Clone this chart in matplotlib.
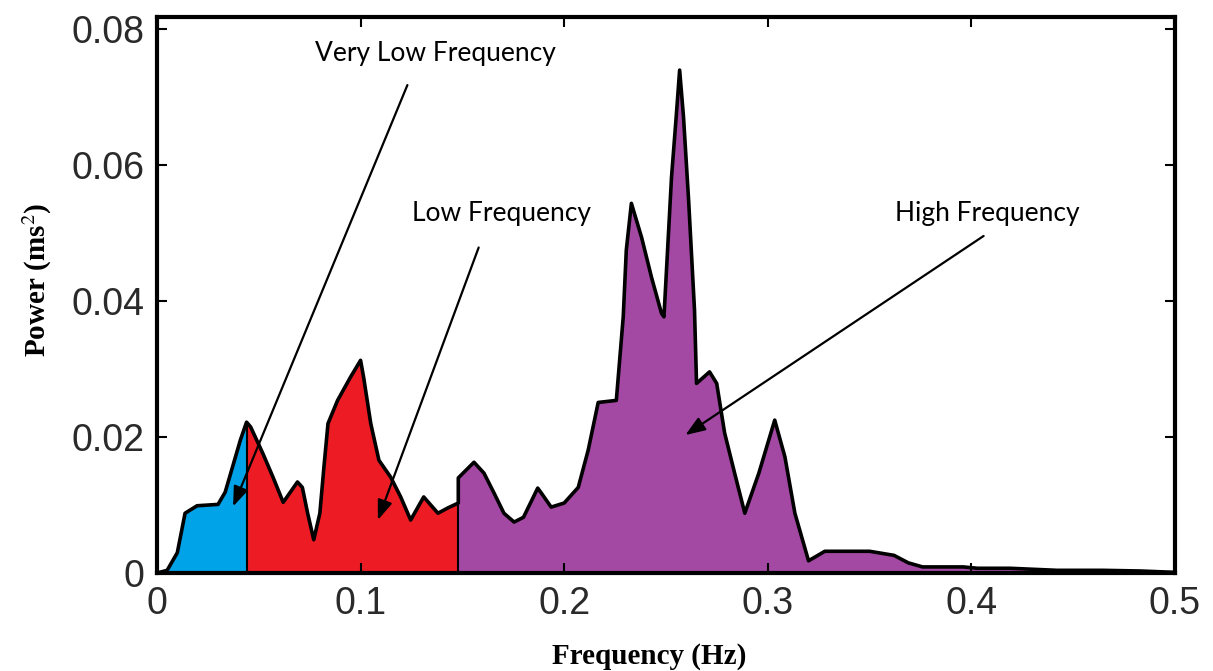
import numpy as np
import matplotlib
matplotlib.use("Agg")
import matplotlib.pyplot as plt

plt.rcParams["mathtext.fontset"] = "stix"

freq = [0.0, 0.005, 0.010, 0.0138, 0.0197, 0.030, 0.0335, 0.0374, 0.0410, 0.044,
        0.046, 0.052, 0.057, 0.062, 0.069, 0.0714, 0.074, 0.077, 0.080, 0.082,
        0.084, 0.0887, 0.095, 0.100, 0.1015, 0.105, 0.109, 0.1148, 0.1197, 0.1246,
        0.131, 0.138, 0.143, 0.148, 0.148, 0.1557, 0.1606, 0.1655, 0.1704, 0.1754,
        0.180, 0.187, 0.1887, 0.1936, 0.200, 0.2069, 0.2118, 0.2167, 0.2256, 0.229,
        0.2305, 0.233, 0.238, 0.2429, 0.2478, 0.249, 0.2527, 0.255, 0.2567, 0.2586,
        0.2611, 0.264, 0.265, 0.2714, 0.2749, 0.2788, 0.2837, 0.2887, 0.2956, 0.3034,
        0.3084, 0.3133, 0.320, 0.328, 0.350, 0.362, 0.369, 0.376, 0.396, 0.403,
        0.419, 0.442, 0.4645, 0.483, 0.500]
power = [0.0, 0.0004, 0.0030, 0.0088, 0.0099, 0.0101, 0.0119, 0.0159, 0.0196, 0.0222,
         0.0215, 0.0176, 0.0141, 0.0104, 0.0134, 0.0126, 0.0088, 0.0049, 0.0088, 0.0156,
         0.0220, 0.0254, 0.0288, 0.0313, 0.0288, 0.0220, 0.0166, 0.0141, 0.0112, 0.0078,
         0.0112, 0.0088, 0.0096, 0.0103, 0.0140, 0.0163, 0.0147, 0.0118, 0.0088, 0.0075,
         0.0082, 0.0125, 0.0118, 0.0097, 0.0103, 0.0126, 0.0181, 0.0251, 0.0254, 0.0377,
         0.0475, 0.0544, 0.0494, 0.0435, 0.0382, 0.0377, 0.0582, 0.0671, 0.0740, 0.0671,
         0.0549, 0.0387, 0.0279, 0.0296, 0.0279, 0.0206, 0.0147, 0.0088, 0.0147, 0.0225,
         0.0171, 0.0088, 0.0018, 0.0032, 0.0032, 0.0026, 0.0015, 0.0009, 0.0009, 0.0007,
         0.0007, 0.0004, 0.0004, 0.0003, 0.0001]

band_edges = [0.0, 0.044, 0.148, 0.5]
band_colors = ["#00A2E8", "#ED1C24", "#A349A4"]
band_names = ["Very Low Frequency", "Low Frequency", "High Frequency"]
# label position, line start, arrow tip (data coords)
label_pos = [(0.137, 0.0765), (0.169, 0.0529), (0.408, 0.0529)]
line_start = [(0.123, 0.0718), (0.158, 0.0479), (0.406, 0.0496)]
arrow_tip = [(0.0374, 0.0098), (0.1085, 0.0078), (0.2595, 0.0203)]

xticks = [0, 0.1, 0.2, 0.3, 0.4, 0.5]
xtick_labels = ["0", "0.1", "0.2", "0.3", "0.4", "0.5"]
yticks = [0, 0.02, 0.04, 0.06, 0.08]
ytick_labels = ["0", "0.02", "0.04", "0.06", "0.08"]

freq = np.array(freq)
power = np.array(power)

fig = plt.figure(figsize=(12.13, 6.71), dpi=100)
ax = fig.add_axes([0.1294, 0.146, 0.8393, 0.8285])

for i in range(3):
    lo, hi = band_edges[i], band_edges[i + 1]
    m = (freq >= lo) & (freq <= hi)
    ax.fill_between(freq, 0, power, where=m, color=band_colors[i], lw=0, zorder=1)

for e in band_edges[1:3]:
    ax.vlines(e, 0, np.interp(e, freq, power), color="black", lw=1.5, zorder=2)

ax.plot(freq, power, color="black", lw=2.6, solid_joinstyle="round", zorder=3)

for name, lp, ls, tip in zip(band_names, label_pos, line_start, arrow_tip):
    ax.text(lp[0], lp[1], name, ha="center", va="center", fontsize=19,
            family="Lato", color="black", zorder=5)
    ax.annotate("", xy=tip, xytext=ls,
                arrowprops=dict(arrowstyle="-|>,head_length=1.2,head_width=0.45",
                                color="black", lw=1.6, shrinkA=0, shrinkB=0),
                zorder=5)

ax.set_xlim(0, 0.5)
ax.set_ylim(0, 0.0818)
ax.set_xticks(xticks)
ax.set_xticklabels(xtick_labels)
ax.set_yticks(yticks)
ax.set_yticklabels(ytick_labels)
ax.tick_params(direction="in", length=7, width=1.5, top=True, right=True,
               labelsize=27, labelcolor="#2a2a2a", pad=9)
for lab in ax.get_xticklabels() + ax.get_yticklabels():
    lab.set_family("Liberation Sans")
for s in ax.spines.values():
    s.set_linewidth(3)

ax.set_xlabel("Frequency (Hz)", family="Liberation Serif", fontweight="bold",
              fontsize=21, va="center")
ax.set_ylabel("Power (ms$^2$)", family="Liberation Serif", fontweight="bold",
              fontsize=21, va="center")
ax.xaxis.set_label_coords(0.483, -0.15)
ax.yaxis.set_label_coords(-0.118, 0.527)

fig.savefig("out.png", dpi=100)
